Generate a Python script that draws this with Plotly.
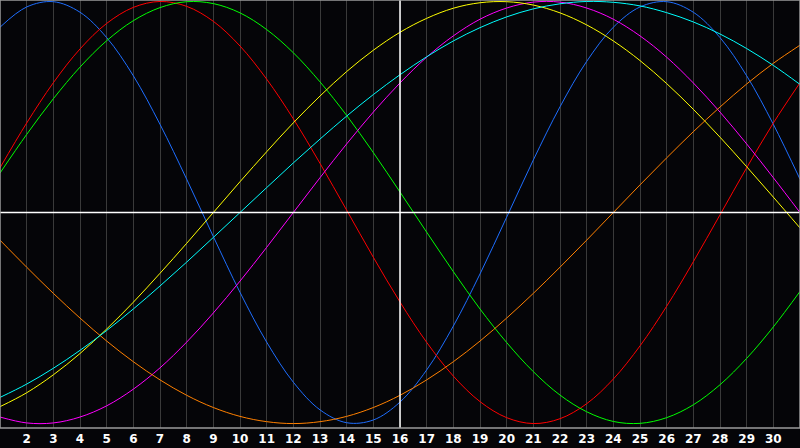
import plotly.graph_objects as go

days = list(range(1, 32))
tick_labels = [str(d) for d in range(2, 31)]

physical = [0.878, 0.974, 0.999, 0.949, 0.829, 0.648, 0.418, 0.158, -0.114, -0.378,
            -0.614, -0.804, -0.935, -0.996, -0.983, -0.898, -0.746, -0.538, -0.291, -0.022,
            0.249, 0.501, 0.716, 0.878, 0.974, 0.999, 0.949, 0.829, 0.648, 0.418, 0.158]
emotional = [0.212, 0.424, 0.615, 0.775, 0.896, 0.972, 1.000, 0.977, 0.906, 0.789,
             0.632, 0.444, 0.233, 0.011, -0.212, -0.424, -0.615, -0.775, -0.896, -0.972,
             -1.000, -0.977, -0.906, -0.789, -0.632, -0.444, -0.233, -0.011, 0.212, 0.424, 0.615]
intellectual = [0.187, 0.370, 0.539, 0.689, 0.814, 0.909, 0.971, 0.999, 0.990, 0.946,
                0.867, 0.757, 0.619, 0.460, 0.284, 0.097, -0.093, -0.280, -0.457, -0.616,
                -0.754, -0.865, -0.944, -0.990, -0.999, -0.972, -0.911, -0.816, -0.691, -0.542, -0.374]
intuitive = [-0.969, -0.997, -0.997, -0.969, -0.916, -0.837, -0.736, -0.614, -0.476, -0.325,
             -0.165, 0.000, 0.165, 0.325, 0.476, 0.614, 0.736, 0.837, 0.916, 0.969,
             0.997, 0.997, 0.969, 0.916, 0.837, 0.736, 0.614, 0.476, 0.325, 0.165, 0.000]
aesthetic = [-0.920, -0.854, -0.769, -0.668, -0.552, -0.425, -0.288, -0.146, 0.000, 0.146,
             0.288, 0.425, 0.552, 0.668, 0.769, 0.854, 0.920, 0.968, 0.994, 0.999,
             0.983, 0.946, 0.889, 0.813, 0.720, 0.611, 0.489, 0.357, 0.217, 0.073, -0.073]
awareness = [-0.131, -0.259, -0.383, -0.500, -0.609, -0.707, -0.793, -0.866, -0.924, -0.966,
             -0.991, -1.000, -0.991, -0.966, -0.924, -0.866, -0.793, -0.707, -0.609, -0.500,
             -0.383, -0.259, -0.131, 0.000, 0.131, 0.259, 0.383, 0.500, 0.609, 0.707, 0.793]
spiritual = [-0.876, -0.813, -0.738, -0.653, -0.559, -0.457, -0.348, -0.235, -0.118, 0.000,
             0.118, 0.235, 0.348, 0.457, 0.559, 0.653, 0.738, 0.813, 0.876, 0.927,
             0.965, 0.989, 1.000, 0.996, 0.979, 0.947, 0.903, 0.846, 0.777, 0.697, 0.607]

series = [
    ("Physical", physical, "#1e6eff"),
    ("Emotional", emotional, "#ff0000"),
    ("Intellectual", intellectual, "#00ff00"),
    ("Intuitive", intuitive, "#ff00ff"),
    ("Aesthetic", aesthetic, "#ffff00"),
    ("Awareness", awareness, "#ff8000"),
    ("Spiritual", spiritual, "#00ffff"),
]

fig = go.Figure()
for name, vals, color in series:
    fig.add_trace(go.Scatter(x=days, y=vals, mode="lines", name=name,
                             line=dict(color=color, width=1, shape="spline", smoothing=1)))

fig.add_shape(type="line", xref="paper", yref="y", x0=0, x1=1, y0=0, y1=0,
              line=dict(color="#ffffff", width=1.5))
fig.add_shape(type="line", xref="x", yref="paper", x0=16, x1=16, y0=0, y1=1,
              line=dict(color="#ffffff", width=1.5))
fig.add_shape(type="rect", xref="paper", yref="paper", x0=0, x1=1, y0=0, y1=1,
              line=dict(color="#9a9a9a", width=1.5), layer="above")

fig.update_layout(
    width=800, height=448,
    margin=dict(l=0, r=0, t=0, b=20),
    paper_bgcolor="#050508", plot_bgcolor="#050508",
    showlegend=False,
    xaxis=dict(range=[1, 31], tickmode="array", tickvals=list(range(2, 31)), ticktext=tick_labels,
               showgrid=True, gridcolor="#3a3a3a", gridwidth=1, zeroline=False,
               tickfont=dict(color="#ffffff", size=12, family="DejaVu Sans", weight="bold"),
               ticks="", ticklabelstandoff=2, showline=False, fixedrange=True),
    yaxis=dict(range=[-1.021, 1.007], showgrid=False, zeroline=False, showticklabels=False,
               ticks="", fixedrange=True),
)

fig.write_html("out.html", config={"displayModeBar": False},
               post_script="document.body.style.margin='0';document.body.style.overflow='hidden';")
